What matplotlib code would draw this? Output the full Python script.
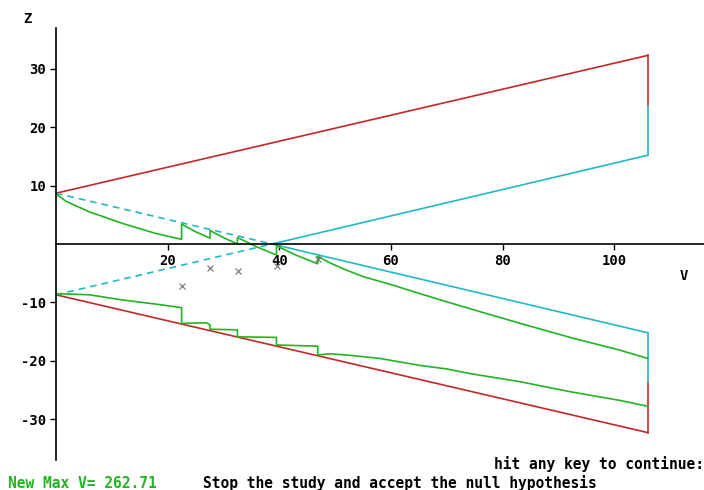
import matplotlib
matplotlib.use("Agg")
import matplotlib.pyplot as plt

W, H = 704, 490

# boundaries of the sequential design (V, Z)
v_end = 106
red_up_v = [0, 106]
red_up_z = [8.7, 32.3]
red_lo_v = [0, 106]
red_lo_z = [-8.7, -32.3]
cyan_up_v = [0, 38.7, 106]
cyan_up_z = [8.7, 0.0, -15.2]
cyan_lo_v = [0, 38.7, 106]
cyan_lo_z = [-8.7, 0.0, 15.2]
end_red_z = [32.3, 23.6, -23.6, -32.3]
end_cyan_z = [23.6, 15.2, -15.2, -23.6]

# green sample paths
green_up_v = [0, 1.8, 6, 12, 17.9, 22.5, 22.5, 25, 27.6, 27.6, 30, 32.5, 32.5, 36, 39.5,
              39.5, 43, 46.9, 46.9, 49, 52.1, 55.1, 60.2, 65.2, 70, 76, 83.2, 92.1, 101.1, 106]
green_up_z = [8.6, 7.3, 5.5, 3.5, 1.8, 0.8, 3.4, 2.1, 1.0, 2.3, 1.1, 0.0, 1.1, -0.5, -1.9,
              -0.3, -1.9, -3.4, -2.1, -3.2, -4.5, -5.6, -7.0, -8.5, -9.9, -11.6, -13.6,
              -16.0, -18.2, -19.6]
green_lo_v = [0, 6, 12, 17.9, 22.5, 22.5, 27.0, 27.6, 27.6, 32.5, 32.5, 39.5, 39.5, 46.9,
              46.9, 49.1, 53, 58, 65.2, 70, 74.2, 83.2, 92.1, 101.1, 106]
green_lo_z = [-8.5, -8.7, -9.6, -10.3, -10.9, -13.6, -13.5, -13.9, -14.6, -14.7, -15.9, -16.0,
              -17.3, -17.5, -19.0, -18.8, -19.1, -19.6, -20.8, -21.4, -22.2, -23.6, -25.3,
              -26.8, -27.8]

# observed points
mark_v = [22.5, 27.6, 32.6, 39.6, 46.9]
mark_z = [-7.2, -4.1, -4.6, -3.8, -2.6]

xticks = [20, 40, 60, 80, 100]
yticks = [-30, -20, -10, 10, 20, 30]
ytick_labels = ["-30", "-20", "-10", "10", "20", "30"]

red = "#c42828"
cyan = "#22b8c4"
green = "#22b422"
lw = 1.2

fig = plt.figure(figsize=(W / 100, H / 100), dpi=100)
ax = fig.add_axes([56 / W, (H - 460) / H, 1 - 56 / W, (460 - 28) / H])
ax.set_xlim(0, 116.1)
ax.set_ylim(-37, 37)

ax.plot(red_up_v, red_up_z, color=red, lw=lw)
ax.plot(red_lo_v, red_lo_z, color=red, lw=lw)
ax.plot(cyan_up_v[:2], cyan_up_z[:2], color=cyan, lw=lw, ls=(0, (4, 3)))
ax.plot(cyan_up_v[1:], cyan_up_z[1:], color=cyan, lw=lw)
ax.plot(cyan_lo_v[:2], cyan_lo_z[:2], color=cyan, lw=lw, ls=(0, (4, 3)))
ax.plot(cyan_lo_v[1:], cyan_lo_z[1:], color=cyan, lw=lw)
ax.plot([v_end, v_end], end_red_z[:2], color=red, lw=lw)
ax.plot([v_end, v_end], end_red_z[2:], color=red, lw=lw)
ax.plot([v_end, v_end], end_cyan_z[:2], color=cyan, lw=lw)
ax.plot([v_end, v_end], end_cyan_z[2:], color=cyan, lw=lw)
ax.plot(green_up_v, green_up_z, color=green, lw=lw)
ax.plot(green_lo_v, green_lo_z, color=green, lw=lw)
ax.plot(mark_v, mark_z, ls="none", marker="x", ms=4.5, mew=0.8, color="#707070")

for s in ["top", "right"]:
    ax.spines[s].set_visible(False)
ax.spines["left"].set_position(("data", 0))
ax.spines["bottom"].set_position(("data", 0))
ax.spines["left"].set_linewidth(1.2)
ax.spines["bottom"].set_linewidth(1.2)

mono = dict(family="DejaVu Sans Mono", weight="bold")
ax.set_xticks(xticks)
ax.set_xticklabels([str(t) for t in xticks], fontsize=10, **mono)
ax.set_yticks(yticks)
ax.set_yticklabels(ytick_labels, fontsize=10, **mono)
ax.tick_params(axis="both", length=4, width=1, pad=3)
ax.tick_params(axis="x", pad=3)

fig.text(27 / W, 1 - 19 / H, "Z", ha="center", va="center", fontsize=10, **mono)
fig.text(684 / W, 1 - 276 / H, "V", ha="center", va="center", fontsize=10, **mono)
fig.text(494 / W, 1 - 464 / H, "hit any key to continue:", ha="left", va="center",
         fontsize=10.5, **mono)
fig.text(8 / W, 1 - 483 / H, "New Max V= 262.71", ha="left", va="center",
         fontsize=10.5, color=green, **mono)
fig.text(203 / W, 1 - 483 / H, "Stop the study and accept the null hypothesis", ha="left",
         va="center", fontsize=10.5, **mono)

fig.savefig("out.png", dpi=100)
